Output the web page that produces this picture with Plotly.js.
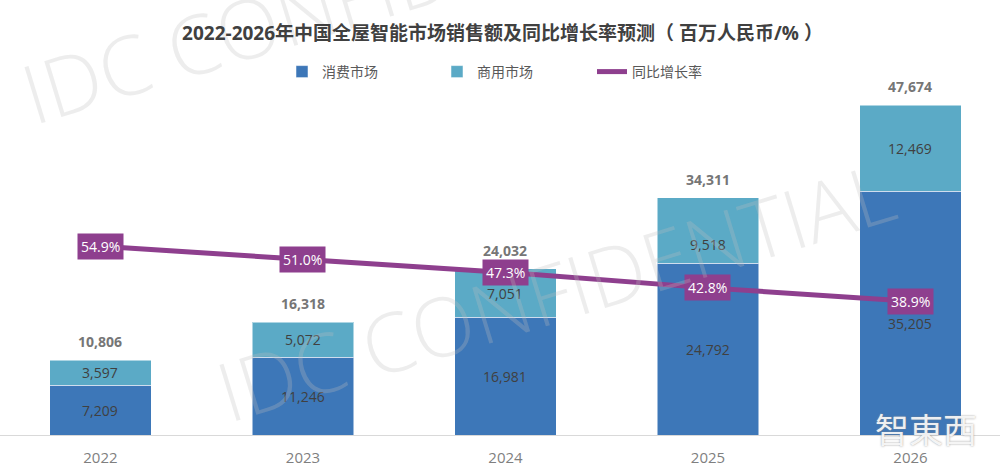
<!DOCTYPE html>
<html>
<head>
<meta charset="utf-8">
<script src="https://cdn.plot.ly/plotly-3.0.1.min.js"></script>
<style>html,body{margin:0;padding:0;background:#fff;}#chart{width:1000px;height:471px;}</style>
</head>
<body>
<div id="chart"></div>
<script>
// ---- data ----
const years = ['2022', '2023', '2024', '2025', '2026'];
const consumer = [7209, 11246, 16981, 24792, 35205];     // 消费市场
const commercial = [3597, 5072, 7051, 9518, 12469];     // 商用市场
const totals = [10806, 16318, 24032, 34311, 47674];      // 合计
const growth = [54.9, 51.0, 47.3, 42.8, 38.9];           // 同比增长率 (%)
const seriesNames = ['消费市场', '商用市场', '同比增长率'];
const titleText = '2022-2026年中国全屋智能市场销售额及同比增长率预测（ 百万人民币/% ）';

// ---- style ----
const C_DARK = '#3D77B8', C_LIGHT = '#5BAAC6', C_PURPLE = '#8E3F8E';
const FONT = '"Open Sans", "Noto Sans CJK SC", sans-serif';
const darkShift = [0, 0, 0, 0, -10];
const lightShift = [0, 0, 0, -14, 0];
const fmt = v => v.toLocaleString('en-US');
const WM = 'rgba(190,190,190,0.28)';

const traces = [
  {type: 'bar', x: years, y: consumer, name: seriesNames[0], width: 0.5,
   marker: {color: C_DARK, line: {color: 'rgba(255,255,255,0.5)', width: 1}}, hoverinfo: 'none'},
  {type: 'bar', x: years, y: commercial, name: seriesNames[1], width: 0.5,
   marker: {color: C_LIGHT, line: {color: 'rgba(255,255,255,0.5)', width: 1}}, hoverinfo: 'none'},
  {type: 'scatter', mode: 'lines', x: years, y: growth, yaxis: 'y2', name: seriesNames[2],
   line: {color: C_PURPLE, width: 5}, hoverinfo: 'none'}
];

const ann = [];
years.forEach((yr, i) => {
  ann.push({x: i, y: consumer[i] / 2, xref: 'x', yref: 'y', text: fmt(consumer[i]), showarrow: false,
    yshift: darkShift[i], font: {family: FONT, size: 14, color: '#404040'}});
  ann.push({x: i, y: consumer[i] + commercial[i] / 2, xref: 'x', yref: 'y', text: fmt(commercial[i]), showarrow: false,
    yshift: lightShift[i], font: {family: FONT, size: 14, color: '#404040'}});
  ann.push({x: i, y: totals[i], xref: 'x', yref: 'y', text: '<b>' + fmt(totals[i]) + '</b>', showarrow: false,
    yanchor: 'bottom', yshift: 7, font: {family: FONT, size: 14, color: '#767676'}});
  ann.push({x: i, y: growth[i], xref: 'x', yref: 'y2', text: growth[i].toFixed(1) + '%', showarrow: false,
    bgcolor: C_PURPLE, borderpad: 3, font: {family: FONT, size: 14, color: '#ffffff'}});
});
// watermark (lower)
ann.push({xref: 'paper', yref: 'paper', x: 0.555, y: (435 - 290) / 346, text: 'IDC CONFIDENTIAL', showarrow: false,
  xanchor: 'center', yanchor: 'middle', textangle: -17, font: {family: FONT, size: 82, weight: 300, color: WM}});
// logo text
ann.push({xref: 'paper', yref: 'paper', x: 0.926, y: (435 - 428) / 346, text: '智東西', showarrow: false,
  xanchor: 'center', yanchor: 'middle',
  font: {family: '"Noto Sans CJK TC", sans-serif', size: 34, color: 'rgba(255,255,255,0.9)', shadow: '0 0 2px #8a8a8a'}});

// upper watermark as a rotated shape label (runs off the top edge)
const shapes = [
  {type: 'line', xref: 'paper', yref: 'paper', layer: 'above',
   x0: 0.002, x1: 0.722, y0: (435 - 108) / 346, y1: (435 + 112) / 346,
   line: {width: 0, color: 'rgba(0,0,0,0)'},
   label: {text: 'IDC CONFIDENTIAL', textposition: 'middle', yanchor: 'middle', xanchor: 'center',
     font: {family: FONT, size: 82, weight: 300, color: WM}}}
];

const layout = {
  width: 1000, height: 471,
  margin: {l: 0, r: 0, t: 89, b: 36, pad: 0},
  paper_bgcolor: '#ffffff', plot_bgcolor: '#ffffff',
  barmode: 'stack',
  title: {text: '<b>' + titleText + '</b>', x: 0.5025, xanchor: 'center', xref: 'paper', y: 1 - 33 / 471, yanchor: 'middle',
    font: {family: FONT, size: 19, color: '#404040'}},
  showlegend: true,
  legend: {orientation: 'h', x: 0.282, xanchor: 'left', y: (435 - 72) / 346, yanchor: 'middle',
    traceorder: 'normal', entrywidth: 110, entrywidthmode: 'pixels',
    font: {family: '"Noto Sans CJK SC", sans-serif', size: 14, color: '#595959'}},
  xaxis: {type: 'category', range: [-0.496, 4.442], showline: true, linecolor: '#d9d9d9', linewidth: 1,
    showgrid: false, zeroline: false, ticks: '', ticklen: 0, ticklabelstandoff: 9,
    tickfont: {family: FONT, size: 15, color: '#7f7f7f'}, fixedrange: true},
  yaxis: {range: [0, 50000], visible: false, showgrid: false, zeroline: false, fixedrange: true},
  yaxis2: {range: [0, 100.65], overlaying: 'y', side: 'right', visible: false, showgrid: false, zeroline: false, fixedrange: true},
  annotations: ann,
  shapes: shapes
};

Plotly.newPlot('chart', traces, layout, {displayModeBar: false, staticPlot: true});
</script>
</body>
</html>
